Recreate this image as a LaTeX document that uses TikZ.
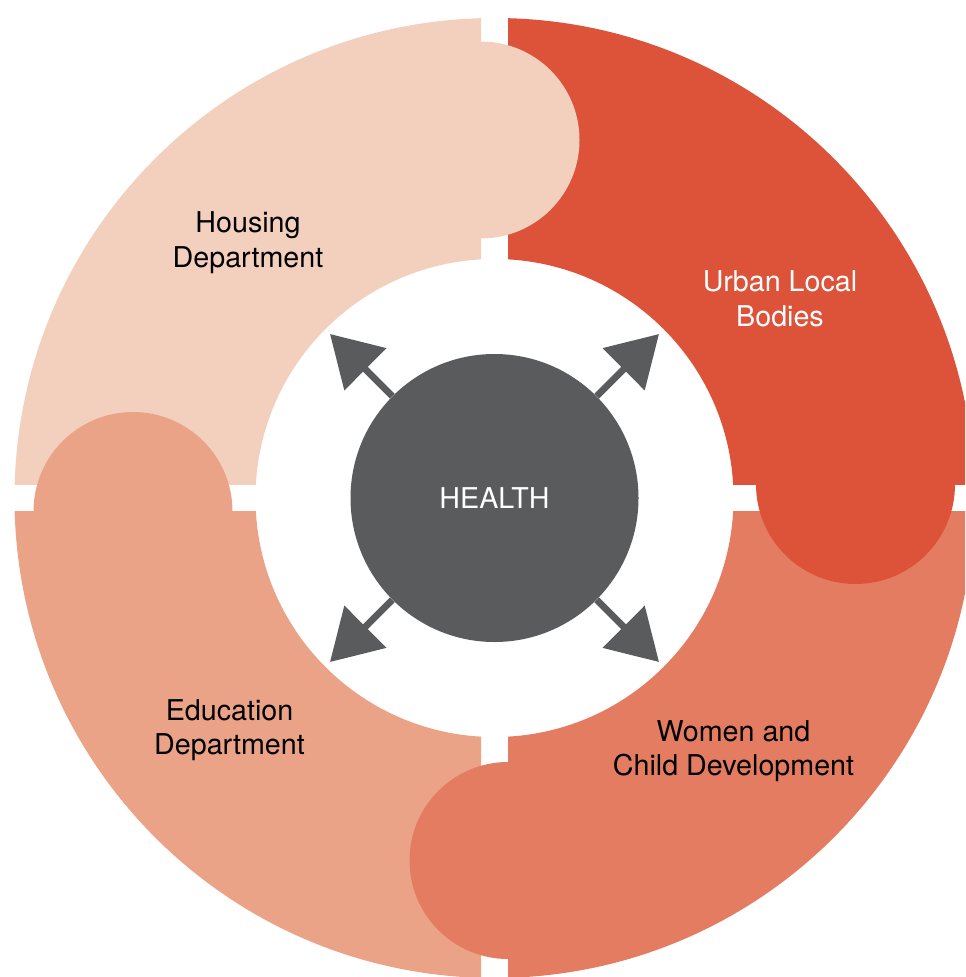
\documentclass[tikz,border=0pt]{standalone}
\usepackage{fontspec}
\setmainfont{TeX Gyre Heros}
\usetikzlibrary{arrows.meta}
\definecolor{housingpeach}{HTML}{F3CFBD}
\definecolor{urbanred}{HTML}{DD5339}
\definecolor{womencoral}{HTML}{E47C61}
\definecolor{educationsalmon}{HTML}{EBA388}
\definecolor{healthgray}{HTML}{5A5B5D}

\begin{document}
\begin{tikzpicture}[x=0.75pt,y=0.75pt,yscale=-1,xscale=1,
  deptlabel/.style={font=\fontsize{21.5pt}{26pt}\selectfont, align=center, inner sep=0.75pt},
  spoke/.style={draw=healthgray, line width=5pt, -{Triangle[length=37.5pt,width=43.5pt]}}]
\useasboundingbox (0,0) rectangle (965,977);

%Quadrant bands
\begin{scope}
\clip (0,0) rectangle (481,484.5);
\fill [housingpeach, even odd rule] (494.5,498) circle [radius=480] (494.5,498) circle [radius=239];
\end{scope}
\begin{scope}
\clip (508,0) rectangle (965,484.5);
\fill [urbanred, even odd rule] (494.5,498) circle [radius=480] (494.5,498) circle [radius=239];
\end{scope}
\begin{scope}
\clip (508,511.5) rectangle (965,977);
\fill [womencoral, even odd rule] (494.5,498) circle [radius=480] (494.5,498) circle [radius=239];
\end{scope}
\begin{scope}
\clip (0,511.5) rectangle (481,977);
\fill [educationsalmon, even odd rule] (494.5,498) circle [radius=480] (494.5,498) circle [radius=239];
\end{scope}

%Tabs
\fill [housingpeach] (481,140) circle [radius=98.5];
\fill [urbanred] (855.5,484.5) circle [radius=99.5];
\fill [womencoral] (508,860.5) circle [radius=98.5];
\fill [educationsalmon] (133,511.5) circle [radius=99.5];

%Centre circle
\node [circle, fill=healthgray, minimum size=216pt, inner sep=0pt, text=white, font=\fontsize{21.5pt}{26pt}\selectfont] (health) at (494.5,498) {HEALTH};

%Arrows
\coordinate (tipNW) at (330,334);
\coordinate (tipNE) at (659,334);
\coordinate (tipSW) at (330,662);
\coordinate (tipSE) at (659,662);
\draw [spoke] (health) -- (tipNW);
\draw [spoke] (health) -- (tipNE);
\draw [spoke] (health) -- (tipSW);
\draw [spoke] (health) -- (tipSE);

% Text Node
\node [deptlabel] (housing) at (248,243) {Housing\\Department};
% Text Node
\node [deptlabel, text=white] (urban) at (780,299) {Urban Local\\Bodies};
% Text Node
\node [deptlabel] (women) at (733.5,751) {Women and\\Child Development};
% Text Node
\node [deptlabel] (education) at (229.5,730) {Education\\Department};

\end{tikzpicture}
\end{document}
